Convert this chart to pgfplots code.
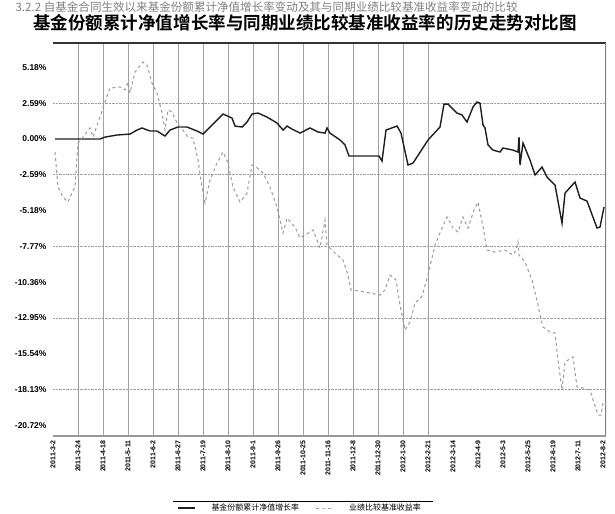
\documentclass[border=0pt]{standalone}
\usepackage{pgfplots}
\pgfplotsset{compat=1.18}
\usepackage{fontspec}
\setmainfont{Liberation Sans}
\newfontfamily\cjk{Noto Sans CJK SC}
\newfontfamily\cjkb{Noto Sans CJK SC Bold}

\definecolor{navline}{HTML}{1E1E1E}
\definecolor{bmline}{HTML}{9A9A9A}
\definecolor{gridc}{HTML}{A0A0A0}

\begin{document}
\begin{tikzpicture}[x=1bp,y=1bp]
\path[use as bounding box] (0,0) rectangle (615,514);

% header and title
\node[anchor=west,text=gray,font=\cjk\fontsize{11.6}{12}\selectfont] at (12,507) {3.2.2 自基金合同生效以来基金份额累计净值增长率变动及其与同期业绩比较基准收益率变动的比较};
\node[font=\cjkb\fontsize{17.6}{18}\selectfont] at (305,491) {基金份额累计净值增长率与同期业绩比较基准收益率的历史走势对比图};

\begin{axis}[
    at={(53bp,77bp)}, anchor=south west,
    scale only axis,
    width=553bp, height=394bp,
    xmin=0, xmax=553,
    ymin=-21.56, ymax=6.95,
    axis line style={draw=none},
    major tick length=0pt,
    ytick={5.18,2.59,0,-2.59,-5.18,-7.77,-10.36,-12.95,-15.54,-18.13,-20.72},
    yticklabels={5.18\%,2.59\%,0.00\%,-2.59\%,-5.18\%,-7.77\%,-10.36\%,-12.95\%,-15.54\%,-18.13\%,-20.72\%},
    yticklabel style={font=\bfseries\fontsize{8.5}{9}\selectfont,xshift=-3bp},
    xtick={0,25,...,550},
    xticklabels={2011-3-2,2011-3-24,2011-4-18,2011-5-11,2011-6-2,2011-6-27,2011-7-19,2011-8-10,2011-9-1,2011-9-26,2011-10-25,2011-11-16,2011-12-8,2011-12-30,2012-1-30,2012-2-21,2012-3-14,2012-4-9,2012-5-3,2012-5-25,2012-6-19,2012-7-11,2012-8-2},
    xticklabel style={rotate=90,anchor=east,font=\bfseries\fontsize{7}{8}\selectfont},
    extra y ticks={2.59,-2.59,-7.77,-12.95,-18.13},
    extra y tick labels={},
    extra y tick style={grid=major,major grid style={gridc,densely dotted,line width=0.9bp}},
    extra x ticks={25,50,...,375},
    extra x tick labels={},
    extra x tick style={grid=major,major grid style={gridc,line width=0.9bp}},
    legend columns=2,
    legend style={at={(247bp,-71bp)},anchor=center,draw=none,fill=none,
        font=\cjk\fontsize{8}{9}\selectfont,column sep=14bp},
    legend cell align=left,
]
% fund NAV growth rate
\addplot[navline,line width=1.4bp] coordinates {
(2,0) (27,0) (40,0) (47,0) (52,0.14) (64,0.29) (77,0.36) (84,0.65) (89,0.80)
(97,0.58) (104,0.58) (112,0.22) (117,0.65) (125,0.87) (134,0.87) (144,0.58)
(150,0.36) (157,0.87) (164,1.37) (170,1.81) (179,1.52) (182,0.94) (189,0.87)
(194,1.23) (199,1.81) (205,1.88) (214,1.59) (224,1.16) (230,0.65) (234,0.94)
(239,0.72) (247,0.43) (257,0.80) (265,0.51) (272,0.43) (274,0.80) (277,0.43)
(287,-0.07) (292,-0.43) (296,-1.23) (326,-1.23) (329,-1.59) (333,0.65) (344,0.94)
(348,0.43) (355,-1.88) (360,-1.74) (375,-0.07) (387,0.87) (391,2.53) (395,2.53)
(404,1.88) (409,1.74) (414,1.23) (420,2.32) (424,2.68) (427,2.60) (430,1.01)
(432,0.80) (435,-0.43) (440,-0.80) (447,-0.94) (450,-0.65) (460,-0.80) (465,-0.94)
(466,0.14) (467,-1.88) (470,-0.29) (477,-1.52) (482,-2.60) (489,-2.03) (494,-2.75)
(502,-3.33) (509,-6.08) (512,-3.91) (522,-3.11) (527,-4.27) (534,-4.49) (544,-6.44)
(547,-6.37) (551,-4.92)
};
\addlegendentry{基金份额累计净值增长率}
% benchmark return
\addplot[bmline,line width=1bp,dashed] coordinates {
(2,-0.94) (5,-3.47) (10,-4.20) (15,-4.56) (19,-3.91) (22,-3.47) (25,-0.29) (30,0.14)
(37,0.80) (40,0.14) (47,1.59) (52,2.68) (57,3.69) (67,3.76) (72,3.55) (75,4.12)
(77,3.33) (82,4.85) (90,5.57) (94,5.35) (99,4.05) (104,3.33) (109,1.88) (112,0.65)
(115,2.10) (119,1.95) (124,1.16) (130,0.65) (135,0.14) (140,0.07) (145,-1.52)
(149,-3.47) (152,-4.63) (157,-2.97) (164,-1.74) (170,-0.94) (175,-1.74) (180,-3.47)
(187,-4.56) (194,-3.91) (199,-1.88) (202,-1.95) (210,-2.46) (217,-3.47) (224,-4.92)
(230,-6.80) (234,-5.72) (242,-6.37) (247,-7.16) (257,-6.73) (260,-6.58) (267,-7.89)
(272,-5.86) (274,-7.67) (282,-8.25) (290,-8.75) (295,-9.84) (298,-10.92) (312,-11.07)
(327,-11.29) (332,-10.92) (337,-9.84) (343,-10.20) (347,-12.01) (352,-13.82)
(357,-13.24) (362,-11.87) (369,-11.36) (375,-9.84) (382,-7.67) (389,-6.44) (394,-5.64)
(400,-6.44) (405,-6.73) (410,-5.64) (415,-6.44) (421,-5.14) (425,-4.56) (430,-6.37)
(434,-8.03) (442,-8.18) (452,-8.03) (460,-8.39) (463,-8.03) (465,-7.45) (466,-8.39)
(472,-8.90) (479,-10.20) (485,-12.01) (487,-12.73) (490,-13.60) (497,-13.96)
(502,-14.04) (505,-15.99) (509,-18.16) (512,-16.13) (520,-15.77) (524,-17.94)
(530,-18.02) (537,-18.16) (540,-18.88) (545,-19.97) (548,-19.97) (550,-19.10)
};
\addlegendentry{业绩比较基准收益率}
% frame: top, right, bottom
\draw[black!80,line width=1.3bp] (rel axis cs:0,1) -- (rel axis cs:1,1);
\draw[gray,line width=1.3bp] (rel axis cs:1,1) -- (rel axis cs:1,0);
\draw[gray!80,line width=3bp] (rel axis cs:0,0) -- (rel axis cs:1,0);
\end{axis}
\draw[black,line width=1bp] (173,12) -- (433,12);
\end{tikzpicture}
\end{document}
